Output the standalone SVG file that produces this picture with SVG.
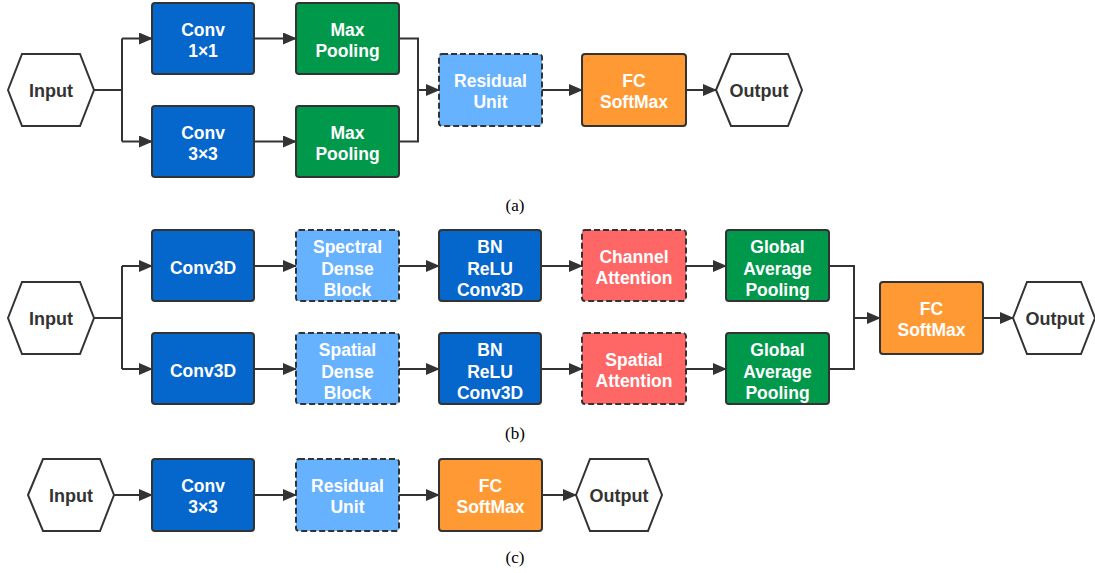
<svg xmlns="http://www.w3.org/2000/svg" width="1095" height="573" viewBox="0 0 1095 573">
<style>
.box{stroke:#333;stroke-width:2}
.dash{stroke-dasharray:6,3}
.blue{fill:#0566CC}
.green{fill:#00994C}
.lblue{fill:#66B2FF}
.orange{fill:#FF9933}
.red{fill:#FF6666}
.hex{fill:#fff;stroke:#333;stroke-width:2}
.t{font-family:"Liberation Sans",Arial,sans-serif;font-weight:bold;font-size:17.5px;fill:#fff;text-anchor:middle}
.d{font-family:"Liberation Sans",Arial,sans-serif;font-weight:bold;font-size:18px;fill:#333;text-anchor:middle}
.cap{font-family:"Liberation Serif","Times New Roman",serif;font-size:17px;fill:#000;text-anchor:middle}
.ln{fill:none;stroke:#333;stroke-width:2}
</style>
<defs>
<marker id="ah" markerUnits="userSpaceOnUse" markerWidth="14" markerHeight="12" refX="13" refY="6" orient="auto">
<path d="M0,0 L14,6 L0,12 Z" fill="#333"/>
</marker>
</defs>

<g id="connectors">
<!-- (a) -->
<path class="ln" d="M94,90 H122 M122,38.5 V141.5"/>
<path class="ln" d="M122,38.5 H152" marker-end="url(#ah)"/>
<path class="ln" d="M122,141.5 H152" marker-end="url(#ah)"/>
<path class="ln" d="M254,38.5 H296" marker-end="url(#ah)"/>
<path class="ln" d="M254,141.5 H296" marker-end="url(#ah)"/>
<path class="ln" d="M399,38.5 H418 V141.5 H399"/>
<path class="ln" d="M418,90 H439" marker-end="url(#ah)"/>
<path class="ln" d="M542,90 H582" marker-end="url(#ah)"/>
<path class="ln" d="M686,90 H716" marker-end="url(#ah)"/>
<!-- (b) -->
<path class="ln" d="M94,318 H122 M122,266 V369"/>
<path class="ln" d="M122,266 H152" marker-end="url(#ah)"/>
<path class="ln" d="M122,369 H152" marker-end="url(#ah)"/>
<path class="ln" d="M254,266 H296" marker-end="url(#ah)"/>
<path class="ln" d="M254,369 H296" marker-end="url(#ah)"/>
<path class="ln" d="M399,266 H439" marker-end="url(#ah)"/>
<path class="ln" d="M399,369 H439" marker-end="url(#ah)"/>
<path class="ln" d="M541,266 H582" marker-end="url(#ah)"/>
<path class="ln" d="M541,369 H582" marker-end="url(#ah)"/>
<path class="ln" d="M686,266 H726" marker-end="url(#ah)"/>
<path class="ln" d="M686,369 H726" marker-end="url(#ah)"/>
<path class="ln" d="M829,266 H854 V369 H829"/>
<path class="ln" d="M854,318 H880" marker-end="url(#ah)"/>
<path class="ln" d="M983,318 H1013" marker-end="url(#ah)"/>
<!-- (c) -->
<path class="ln" d="M114,495 H152" marker-end="url(#ah)"/>
<path class="ln" d="M254,495 H296" marker-end="url(#ah)"/>
<path class="ln" d="M399,495 H439" marker-end="url(#ah)"/>
<path class="ln" d="M542,495 H576" marker-end="url(#ah)"/>
</g>

<!-- (a) nodes -->
<g id="a-input"><polygon class="hex" points="8,90 22,54 80,54 94,90 80,126 22,126"/><text class="d" x="51" y="97">Input</text></g>
<g id="a-conv1"><rect class="box blue" x="152" y="3" width="102" height="71" rx="3"/><text class="t" x="203" y="36">Conv</text><text class="t" x="203" y="57">1×1</text></g>
<g id="a-conv3"><rect class="box blue" x="152" y="106" width="102" height="71" rx="3"/><text class="t" x="203" y="139">Conv</text><text class="t" x="203" y="160">3×3</text></g>
<g id="a-pool1"><rect class="box green" x="296" y="3" width="103" height="71" rx="3"/><text class="t" x="347.5" y="36">Max</text><text class="t" x="347.5" y="57">Pooling</text></g>
<g id="a-pool2"><rect class="box green" x="296" y="106" width="103" height="71" rx="3"/><text class="t" x="347.5" y="139">Max</text><text class="t" x="347.5" y="160">Pooling</text></g>
<g id="a-res"><rect class="box dash lblue" x="439" y="54" width="103" height="72" rx="3"/><text class="t" x="490.5" y="87">Residual</text><text class="t" x="490.5" y="108">Unit</text></g>
<g id="a-fc"><rect class="box orange" x="582" y="54" width="104" height="72" rx="3"/><text class="t" x="634" y="87">FC</text><text class="t" x="634" y="108">SoftMax</text></g>
<g id="a-output"><polygon class="hex" points="716,90 731,54 788,54 802,90 788,126 731,126"/><text class="d" x="759" y="97">Output</text></g>
<text class="cap" x="515" y="211">(a)</text>

<!-- (b) nodes -->
<g id="b-input"><polygon class="hex" points="8,318 22,282 80,282 94,318 80,354 22,354"/><text class="d" x="51" y="325">Input</text></g>
<g id="b-conv1"><rect class="box blue" x="152" y="230" width="102" height="71" rx="3"/><text class="t" x="203" y="274">Conv3D</text></g>
<g id="b-conv2"><rect class="box blue" x="152" y="333" width="102" height="71" rx="3"/><text class="t" x="203" y="377">Conv3D</text></g>
<g id="b-sdb1"><rect class="box dash lblue" x="296" y="230" width="103" height="71" rx="3"/><text class="t" x="347.5" y="253">Spectral</text><text class="t" x="347.5" y="275">Dense</text><text class="t" x="347.5" y="296">Block</text></g>
<g id="b-sdb2"><rect class="box dash lblue" x="296" y="333" width="103" height="71" rx="3"/><text class="t" x="347.5" y="356">Spatial</text><text class="t" x="347.5" y="378">Dense</text><text class="t" x="347.5" y="399">Block</text></g>
<g id="b-bn1"><rect class="box blue" x="439" y="230" width="102" height="71" rx="3"/><text class="t" x="490" y="253">BN</text><text class="t" x="490" y="275">ReLU</text><text class="t" x="490" y="296">Conv3D</text></g>
<g id="b-bn2"><rect class="box blue" x="439" y="333" width="102" height="71" rx="3"/><text class="t" x="490" y="356">BN</text><text class="t" x="490" y="378">ReLU</text><text class="t" x="490" y="399">Conv3D</text></g>
<g id="b-ca"><rect class="box dash red" x="582" y="230" width="104" height="71" rx="3"/><text class="t" x="634" y="263">Channel</text><text class="t" x="634" y="284">Attention</text></g>
<g id="b-sa"><rect class="box dash red" x="582" y="333" width="104" height="71" rx="3"/><text class="t" x="634" y="366">Spatial</text><text class="t" x="634" y="387">Attention</text></g>
<g id="b-gap1"><rect class="box green" x="726" y="230" width="103" height="71" rx="3"/><text class="t" x="777.5" y="253">Global</text><text class="t" x="777.5" y="275">Average</text><text class="t" x="777.5" y="296">Pooling</text></g>
<g id="b-gap2"><rect class="box green" x="726" y="333" width="103" height="71" rx="3"/><text class="t" x="777.5" y="356">Global</text><text class="t" x="777.5" y="378">Average</text><text class="t" x="777.5" y="399">Pooling</text></g>
<g id="b-fc"><rect class="box orange" x="880" y="282" width="103" height="72" rx="3"/><text class="t" x="931.5" y="315">FC</text><text class="t" x="931.5" y="336">SoftMax</text></g>
<g id="b-output"><polygon class="hex" points="1013,318 1027,282 1081,282 1095,318 1081,354 1027,354"/><text class="d" x="1055" y="325">Output</text></g>
<text class="cap" x="515" y="439">(b)</text>

<!-- (c) nodes -->
<g id="c-input"><polygon class="hex" points="28,495 43,459 100,459 114,495 100,531 43,531"/><text class="d" x="71" y="502">Input</text></g>
<g id="c-conv"><rect class="box blue" x="152" y="459" width="102" height="72" rx="3"/><text class="t" x="203" y="492">Conv</text><text class="t" x="203" y="513">3×3</text></g>
<g id="c-res"><rect class="box dash lblue" x="296" y="459" width="103" height="72" rx="3"/><text class="t" x="347.5" y="492">Residual</text><text class="t" x="347.5" y="513">Unit</text></g>
<g id="c-fc"><rect class="box orange" x="439" y="459" width="103" height="72" rx="3"/><text class="t" x="490.5" y="492">FC</text><text class="t" x="490.5" y="513">SoftMax</text></g>
<g id="c-output"><polygon class="hex" points="576,495 590,459 648,459 662,495 648,531 590,531"/><text class="d" x="619" y="502">Output</text></g>
<text class="cap" x="515" y="563">(c)</text>
</svg>
